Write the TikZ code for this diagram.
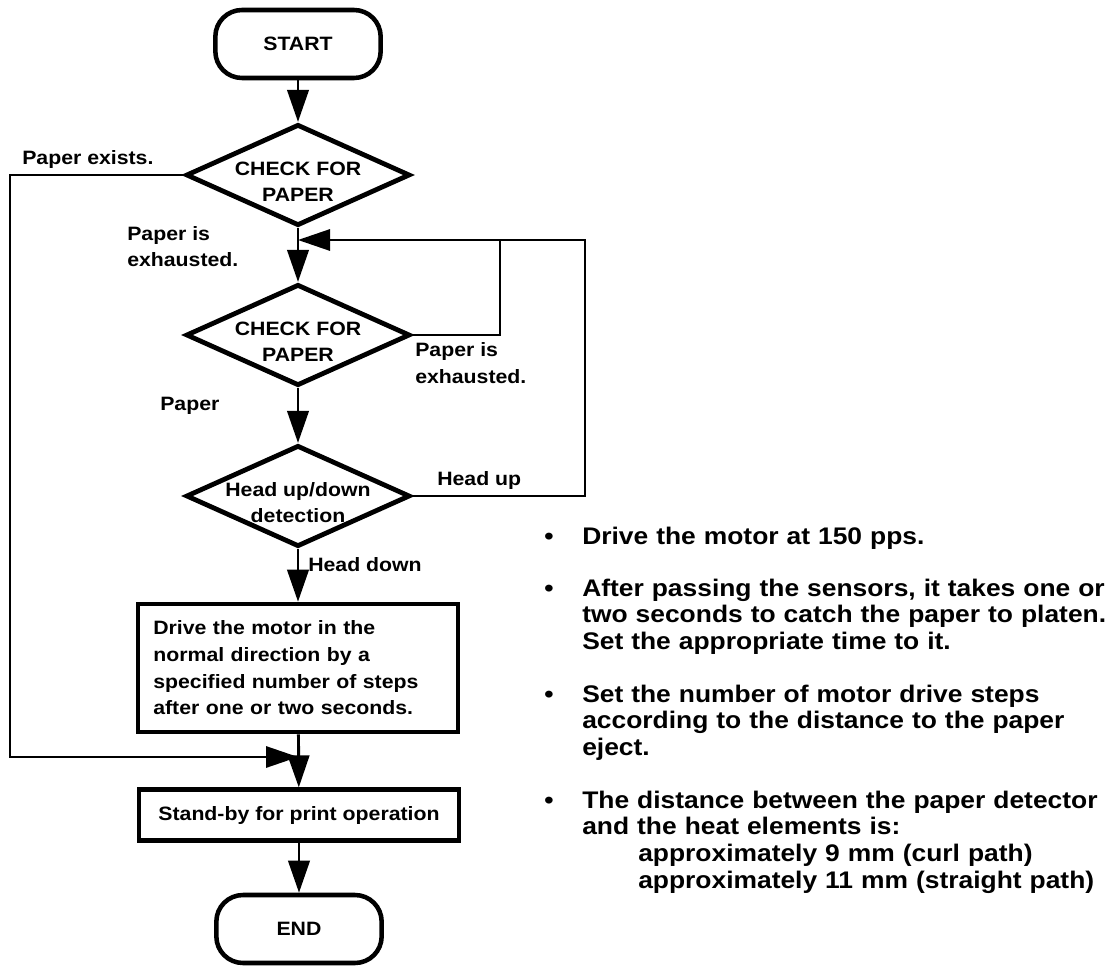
\documentclass[tikz,border=0pt]{standalone}
\usepackage{fontspec}
\setmainfont{Liberation Sans}[FakeStretch=1.1]
\usepackage{tikz}
\usetikzlibrary{arrows.meta, shapes.geometric, positioning}
\tikzset{
x=0.75pt, y=-0.75pt, % work in pixels, y pointing down
>={Triangle[length=24pt, width=16pt]}, % big filled arrow heads
every node/.style={font=\bfseries\fontsize{14.5}{20}\selectfont}, % bold sans for all text
terminal/.style={draw, line width=3.4pt, rounded corners=20pt, minimum width=124pt, minimum height=51pt},
decision/.style={draw, diamond, line width=3.6pt, minimum width=168pt, minimum height=76pt, inner sep=0pt},
dtext/.style={align=center, inner sep=0pt, yshift=-5pt}, % text inside a diamond
process/.style={draw, line width=3.4pt, minimum width=240pt, inner xsep=11pt},
flow/.style={->, line width=2.2pt},
side/.style={line width=1.5pt},
lbl/.style={anchor=base west, inner sep=0pt, align=left}, % base = last line
bul/.style={anchor=base, inner sep=0pt, font=\bfseries\fontsize{18}{20}\selectfont},
note/.style={anchor=base west, inner sep=0pt, text width=410pt, align=left, font=\bfseries\fontsize{18}{20}\selectfont},
}

\begin{document}
\begin{tikzpicture}
\useasboundingbox (0,0) rectangle (1107,966);
% flow chart
\node[terminal] at (298,44) (start) {START};
\node[decision, label={[dtext]center:CHECK FOR\\PAPER}] at (298,175) (d1) {};
\node[decision, label={[dtext]center:CHECK FOR\\PAPER}] at (298,335) (d2) {};
\node[decision, label={[dtext]center:Head up/down\\detection}] at (298,496) (d3) {};
\node[process, text width=217pt, align=left, minimum height=96pt] at (298,668) (drive) {Drive the motor in the\\normal direction by a\\specified number of steps\\after one or two seconds.};
\node[process, minimum height=38pt] at (299,815) (standby) {Stand-by for print operation};
\node[terminal] at (299,929) (end) {END};
\coordinate (merge) at (298,240);
\coordinate (loopin) at (500,240);
\coordinate (loopout) at (585,240);
\coordinate (corner) at (10,757);
\coordinate (join) at (298,757);
% labels
\node[lbl] at (22,165) (exists) {Paper exists.};
\node[lbl] at (127,267) (exh1) {Paper is\\exhausted.};
\node[lbl] at (415,383) (exh2) {Paper is\\exhausted.};
\node[lbl] at (160,411) (paper) {Paper};
\node[lbl] at (437,485) (hup) {Head up};
\node[lbl] at (308,571) (hdown) {Head down};
% notes on the right
\node[bul] at (549,544) (dot1) {\textbullet};
\node[bul] at (549,596) (dot2) {\textbullet};
\node[bul] at (549,702) (dot3) {\textbullet};
\node[bul] at (549,808) (dot4) {\textbullet};
\node[note] at (582,544) (n1) {Drive the motor at 150 pps.};
\node[note] at (582,596) (n2) {After passing the sensors, it takes one or\\two seconds to catch the paper to platen.\\Set the appropriate time to it.};
\node[note] at (582,702) (n3) {Set the number of motor drive steps\\according to the distance to the paper\\eject.};
\node[note] at (582,808) (n4) {The distance between the paper detector\\and the heat elements is:\\\hspace*{42pt}approximately 9 mm (curl path)\\\hspace*{42pt}approximately 11 mm (straight path)};
\draw[flow] (start) -- (d1);
\draw[flow] (d1) -- (d2);
\draw[flow] (d2) -- (d3);
\draw[flow] (d3) -- (drive);
\draw[flow] (drive) -- (standby);
\draw[flow] (standby) -- (end);
\draw[side] (d2.east) -| (loopin);
\draw[side, ->] (d3.east) -| (loopout) -- (merge);
\draw[side, ->] (d1.west) -| (corner) -- (join);
\end{tikzpicture}
\end{document}
